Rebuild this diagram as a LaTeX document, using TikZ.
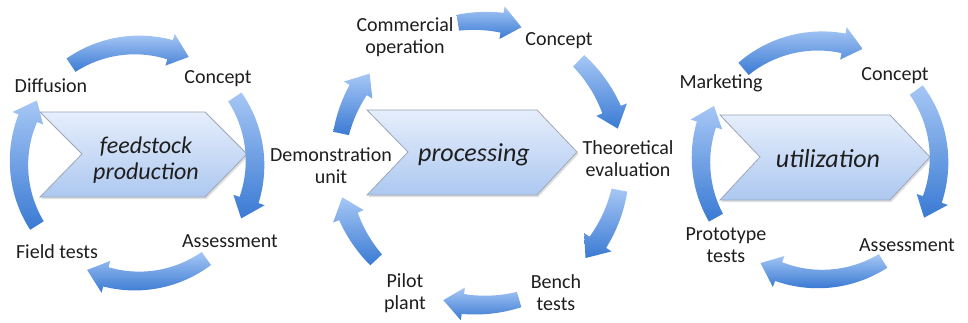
\documentclass[tikz,border=0pt]{standalone}
\usepackage{fontspec}
\setmainfont{Carlito}
\usetikzlibrary{shadows}
\definecolor{arrtop}{HTML}{A6C7F5}
\definecolor{arrbot}{HTML}{3A7AD3}
\definecolor{chtop}{HTML}{E6EEFC}
\definecolor{chbot}{HTML}{ADC8F0}
\definecolor{chline}{HTML}{9DA7B8}
\definecolor{txt}{HTML}{1E1E1E}
\newcommand{\headlen}{20}
\newcommand{\hw}{16.5}
\newcommand{\bwt}{8}
\newcommand{\bwh}{10}
% #1 cx, #2 cy, #3 radius, #4 tail angle, #5 tip angle (screen angles, y down)
\newcommand{\cyarrow}[5]{%
  \pgfmathsetmacro{\hd}{(((#5)>(#4))?1:-1)*\headlen/(#3)*57.2958}%
  \pgfmathsetmacro{\ab}{(#5)-\hd}%
  \shade[top color=arrtop, bottom color=arrbot]
    plot[domain=#4:\ab, samples=40, variable=\t]
      ({#1+(#3+\bwt+(\bwh-\bwt)*(\t-(#4))/(\ab-(#4)))*cos(\t)},
       {#2+(#3+\bwt+(\bwh-\bwt)*(\t-(#4))/(\ab-(#4)))*sin(\t)})
    -- ({#1+(#3+\hw)*cos(\ab)},{#2+(#3+\hw)*sin(\ab)})
    -- ({#1+(#3)*cos(#5)},{#2+(#3)*sin(#5)})
    -- ({#1+(#3-\hw)*cos(\ab)},{#2+(#3-\hw)*sin(\ab)})
    -- plot[domain=\ab:#4, samples=40, variable=\t]
      ({#1+(#3-\bwt-(\bwh-\bwt)*(\t-(#4))/(\ab-(#4)))*cos(\t)},
       {#2+(#3-\bwt-(\bwh-\bwt)*(\t-(#4))/(\ab-(#4)))*sin(\t)})
    -- cycle;
}
\begin{document}
\begin{tikzpicture}[x=1pt,y=-1pt,
  lbl/.style={font=\fontsize{20}{22}\selectfont, text=txt, align=center, inner sep=0pt},
  big/.style={font=\fontsize{26}{26}\selectfont\itshape, text=txt, align=center, inner sep=0pt},
  chev/.style={draw=chline, line width=0.8pt, top color=chtop, bottom color=chbot,
    drop shadow={opacity=0.25, shadow xshift=1.5pt, shadow yshift=-2pt}}]
\useasboundingbox (0,0) rectangle (968,323);
\fill[white] (0,0) rectangle (968,323);

% chevrons
\path[chev] (40,112) -- (205,112) -- (247,154) -- (205,197) -- (40,197) -- (82,154) -- cycle;
\path[chev] (367,110) -- (537,110) -- (577,152) -- (537,195) -- (367,195) -- (408,152) -- cycle;
\path[chev] (720,115) -- (890,115) -- (930,157) -- (890,200) -- (720,200) -- (760,157) -- cycle;

% left cycle arrows
\cyarrow{137}{163}{118}{-124}{-64}
\cyarrow{137}{163}{118}{-34}{28}
\cyarrow{137}{163}{118}{54}{115}
\cyarrow{137}{163}{118}{148}{212}

% middle cycle arrows
\cyarrow{480}{163}{142}{-99}{-73}
\cyarrow{480}{163}{142}{-46}{-14}
\cyarrow{480}{163}{142}{11}{42}
\cyarrow{480}{163}{142}{74}{105}
\cyarrow{480}{163}{142}{137}{166}
\cyarrow{480}{163}{142}{192}{219}

% right cycle arrows
\cyarrow{820}{160}{119}{-130}{-69}
\cyarrow{820}{160}{119}{-36}{29}
\cyarrow{820}{160}{119}{58}{120}
\cyarrow{820}{160}{119}{151}{207}

% centre texts
\node[big, font=\fontsize{24}{26}\selectfont\itshape] (feed) at (146,160) {feedstock\\production};
\node[big] (proc) at (474,155) {processing};
\node[big] (util) at (828,159) {utilization};

% left labels
\node[lbl] (diff) at (51,86) {Diffusion};
\node[lbl] (conc1) at (218,79) {Concept};
\node[lbl] (ass1) at (230,241) {Assessment};
\node[lbl] (field) at (57,252) {Field tests};

% middle labels
\node[lbl] (comm) at (405,37) {Commercial\\operation};
\node[lbl] (conc2) at (559,41) {Concept};
\node[lbl] (theo) at (628,159) {Theoretical\\evaluation};
\node[lbl] (bench) at (556,293) {Bench\\tests};
\node[lbl] (pilot) at (405,293) {Pilot\\plant};
\node[lbl] (demo) at (331,166) {Demonstration\\unit};

% right labels
\node[lbl] (mark) at (721,83) {Marketing};
\node[lbl] (conc3) at (895,76) {Concept};
\node[lbl] (proto) at (726,245) {Prototype\\tests};
\node[lbl] (ass3) at (907,245) {Assessment};
\end{tikzpicture}
\end{document}
